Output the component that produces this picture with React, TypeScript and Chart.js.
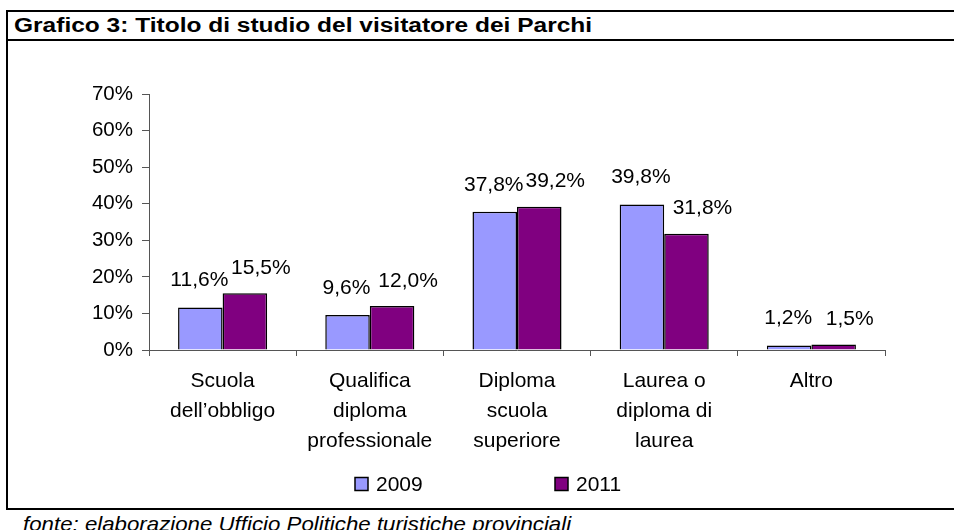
import React, { useEffect, useRef } from 'react';
import { Chart, registerables } from 'chart.js';

Chart.register(...registerables);

const titleText = 'Grafico 3: Titolo di studio del visitatore dei Parchi';
const footerText = 'fonte: elaborazione Ufficio Politiche turistiche provinciali';

const categories: string[][] = [
  ['Scuola', 'dell’obbligo'],
  ['Qualifica', 'diploma', 'professionale'],
  ['Diploma', 'scuola', 'superiore'],
  ['Laurea o', 'diploma di', 'laurea'],
  ['Altro'],
];
const seriesNames = ['2009', '2011'];
const values2009 = [11.6, 9.6, 37.8, 39.8, 1.2];
const values2011 = [15.5, 12.0, 39.2, 31.8, 1.5];
const yTickValues = [0, 10, 20, 30, 40, 50, 60, 70];
const seriesColors = ['#9999FF', '#800080'];

const FONT = "'Liberation Sans', Arial, Helvetica, sans-serif";

const fmt = (v: number) => v.toFixed(1).replace('.', ',') + '%';

const valueLabels = {
  id: 'valueLabels',
  afterDatasetsDraw(chart: any) {
    const ctx = chart.ctx;
    ctx.save();
    ctx.font = `21px ${FONT}`;
    ctx.fillStyle = '#000';
    ctx.textAlign = 'center';
    ctx.textBaseline = 'middle';
    chart.data.datasets.forEach((ds: any, di: number) => {
      const meta = chart.getDatasetMeta(di);
      meta.data.forEach((el: any, i: number) => {
        const dx = di === 0 ? -1 : 16;
        const dy = di === 0 ? 27 : 25;
        ctx.fillText(fmt(ds.data[i]), el.x + dx, el.y - dy);
      });
    });
    ctx.restore();
  },
};

const customLegend = {
  id: 'customLegend',
  afterDraw(chart: any) {
    const ctx = chart.ctx;
    const area = chart.chartArea;
    const startX = (area.left + area.right) / 2 - 162;
    const cy = 442;
    ctx.save();
    ctx.font = `21px ${FONT}`;
    ctx.textAlign = 'left';
    ctx.textBaseline = 'middle';
    chart.data.datasets.forEach((ds: any, di: number) => {
      const x = startX + di * 200;
      ctx.fillStyle = ds.backgroundColor;
      ctx.fillRect(x, cy - 6.5, 13, 13);
      ctx.strokeStyle = '#000';
      ctx.lineWidth = 1.5;
      ctx.strokeRect(x, cy - 6.5, 13, 13);
      ctx.fillStyle = '#000';
      ctx.fillText(ds.label, x + 21, cy + 1);
    });
    ctx.restore();
  },
};

export default function App() {
  const ref = useRef<HTMLCanvasElement>(null);

  useEffect(() => {
    if (!ref.current) return;
    Chart.defaults.font.family = FONT;
    const chart = new Chart(ref.current, {
      type: 'bar',
      data: {
        labels: categories,
        datasets: [
          {
            label: seriesNames[0],
            data: values2009,
            backgroundColor: seriesColors[0],
            borderColor: '#000',
            borderWidth: 1.5,
          },
          {
            label: seriesNames[1],
            data: values2011,
            backgroundColor: seriesColors[1],
            borderColor: '#000',
            borderWidth: 1.5,
          },
        ],
      },
      options: {
        animation: false,
        responsive: false,
        maintainAspectRatio: false,
        datasets: {
          bar: { categoryPercentage: 0.605, barPercentage: 1 },
        },
        layout: { padding: { left: 0, right: 69, top: 52, bottom: 0 } },
        plugins: {
          legend: { display: false },
          tooltip: { enabled: false },
          title: { display: false },
        },
        scales: {
          x: {
            offset: true,
            grid: {
              display: true,
              drawOnChartArea: false,
              drawTicks: true,
              tickLength: 6,
              color: '#555',
              offset: true,
            },
            border: { display: true, color: '#555', width: 1 },
            ticks: {
              color: '#000',
              font: { size: 21, lineHeight: 30 / 21 },
              padding: 10,
              maxRotation: 0,
              autoSkip: false,
            },
            afterFit(scale: any) {
              scale.height = 157;
            },
          },
          y: {
            min: 0,
            max: 70,
            grid: {
              display: true,
              drawOnChartArea: false,
              drawTicks: true,
              tickLength: 7,
              color: '#555',
            },
            border: { display: true, color: '#555', width: 1 },
            afterBuildTicks(scale: any) {
              scale.ticks = yTickValues.map((v) => ({ value: v }));
            },
            ticks: {
              color: '#000',
              font: { size: 20.5 },
              padding: 9,
              callback: (v: any) => v + '%',
            },
            afterFit(scale: any) {
              scale.width = 149;
            },
          },
        },
      },
      plugins: [valueLabels, customLegend],
    });
    return () => chart.destroy();
  }, []);

  return (
    <div
      style={{
        position: 'absolute',
        left: 0,
        top: 0,
        width: 954,
        height: 530,
        overflow: 'hidden',
        background: '#fff',
        fontFamily: FONT,
      }}
    >
      <div
        style={{
          position: 'absolute',
          left: 6,
          top: 10,
          width: 960,
          height: 500,
          boxSizing: 'border-box',
          borderTop: '2px solid #000',
          borderLeft: '2px solid #000',
          borderBottom: '2px solid #000',
        }}
      />
      <div
        style={{
          position: 'absolute',
          left: 6,
          top: 39,
          width: 960,
          height: 2,
          background: '#000',
        }}
      />
      <div
        style={{
          position: 'absolute',
          left: 14,
          top: 12,
          height: 26,
          lineHeight: '26px',
          fontSize: 20,
          fontWeight: 'bold',
          color: '#000',
          whiteSpace: 'nowrap',
          transform: 'scaleX(1.225)',
          transformOrigin: 'left center',
        }}
      >
        {titleText}
      </div>
      <canvas
        ref={ref}
        width={954}
        height={465}
        style={{ position: 'absolute', left: 0, top: 42, width: 954, height: 465 }}
      />
      <div
        style={{
          position: 'absolute',
          left: 23,
          top: 513,
          lineHeight: '22px',
          fontSize: 21,
          fontStyle: 'italic',
          color: '#000',
          whiteSpace: 'nowrap',
          transform: 'scaleX(1.06)',
          transformOrigin: 'left center',
        }}
      >
        {footerText}
      </div>
    </div>
  );
}
